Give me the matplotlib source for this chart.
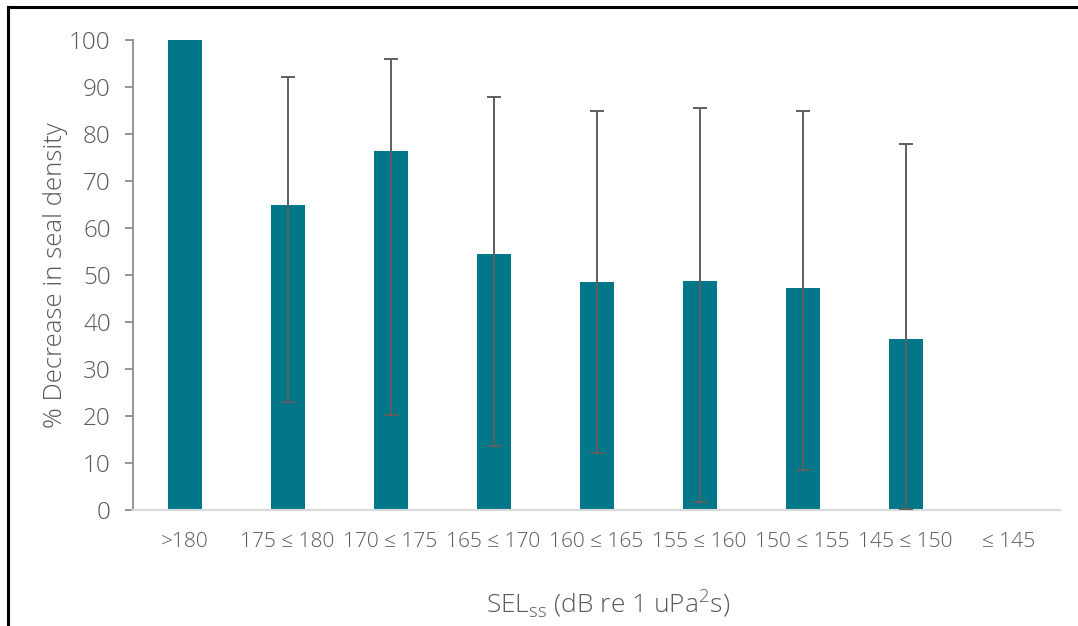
import numpy as np
import matplotlib.pyplot as plt
from matplotlib.lines import Line2D

plt.rcParams['font.family'] = ['Open Sans', 'DejaVu Sans']
plt.rcParams['font.weight'] = 'light'
plt.rcParams['axes.labelweight'] = 'light'
plt.rcParams['mathtext.fontset'] = 'custom'
plt.rcParams['mathtext.rm'] = 'Open Sans:light'

# SEL bins and mean % decrease in seal density, with CI bounds
bins = ['>180', '175 \u2264 180', '170 \u2264 175', '165 \u2264 170', '160 \u2264 165',
        '155 \u2264 160', '150 \u2264 155', '145 \u2264 150', '\u2264 145']
decrease = [100, 64.8, 76.3, 54.5, 48.6, 48.8, 47.3, 36.4, np.nan]
upper = [np.nan, 92.2, 96.0, 87.8, 84.8, 85.5, 84.8, 77.9, np.nan]
lower = [np.nan, 22.9, 20.3, 13.6, 12.2, 1.8, 8.5, 0.2, np.nan]

bar_col = '#017789'
txt_col = '#595959'

x = np.arange(len(bins))
dec = np.array(decrease)
yerr = np.array([dec - np.array(lower), np.array(upper) - dec])

fig = plt.figure(figsize=(10.78, 6.26), dpi=100)
ax = fig.add_axes([0.1234, 0.1853, 0.86, 0.7508])

ax.bar(x, dec, width=0.33, color=bar_col, zorder=2)
ax.errorbar(x, dec, yerr=yerr, fmt='none', ecolor='#5f5f5f', elinewidth=1.4,
            capsize=4.7, capthick=1.4, zorder=3)

ax.set_xlim(-0.5, len(bins) - 0.5)
ax.set_ylim(0, 100)
ax.set_yticks(np.arange(0, 101, 10))
ax.set_xticks(x)
ax.set_xticklabels(bins)

for s in ['top', 'right']:
    ax.spines[s].set_visible(False)
ax.spines['left'].set_color('#8c8c8c')
ax.spines['left'].set_linewidth(1.3)
ax.spines['bottom'].set_color('#d9d9d9')
ax.spines['bottom'].set_linewidth(1.5)

ax.tick_params(axis='y', direction='out', length=6, width=1.3, color='#8c8c8c',
               labelsize=17.5, labelcolor=txt_col, pad=10)
ax.tick_params(axis='x', length=0, labelsize=15, labelcolor=txt_col, pad=16)

ax.set_ylabel('% Decrease in seal density', fontsize=18.5, color=txt_col)
ax.yaxis.set_label_coords(-0.07, 0.5)
ax.set_xlabel(r'SEL$_{\mathregular{ss}}$ (dB re 1 uPa$^{\mathregular{2}}$s)',
              fontsize=19, color=txt_col)
ax.xaxis.set_label_coords(0.5125, -0.165)

# frame around the chart area
fig.add_artist(Line2D([8 / 1078, 8 / 1078], [0, 1 - 7 / 626], color='black', lw=2.2))
fig.add_artist(Line2D([8 / 1078, 1], [1 - 7 / 626, 1 - 7 / 626], color='black', lw=2.2))

fig.savefig('out.png', dpi=100)
